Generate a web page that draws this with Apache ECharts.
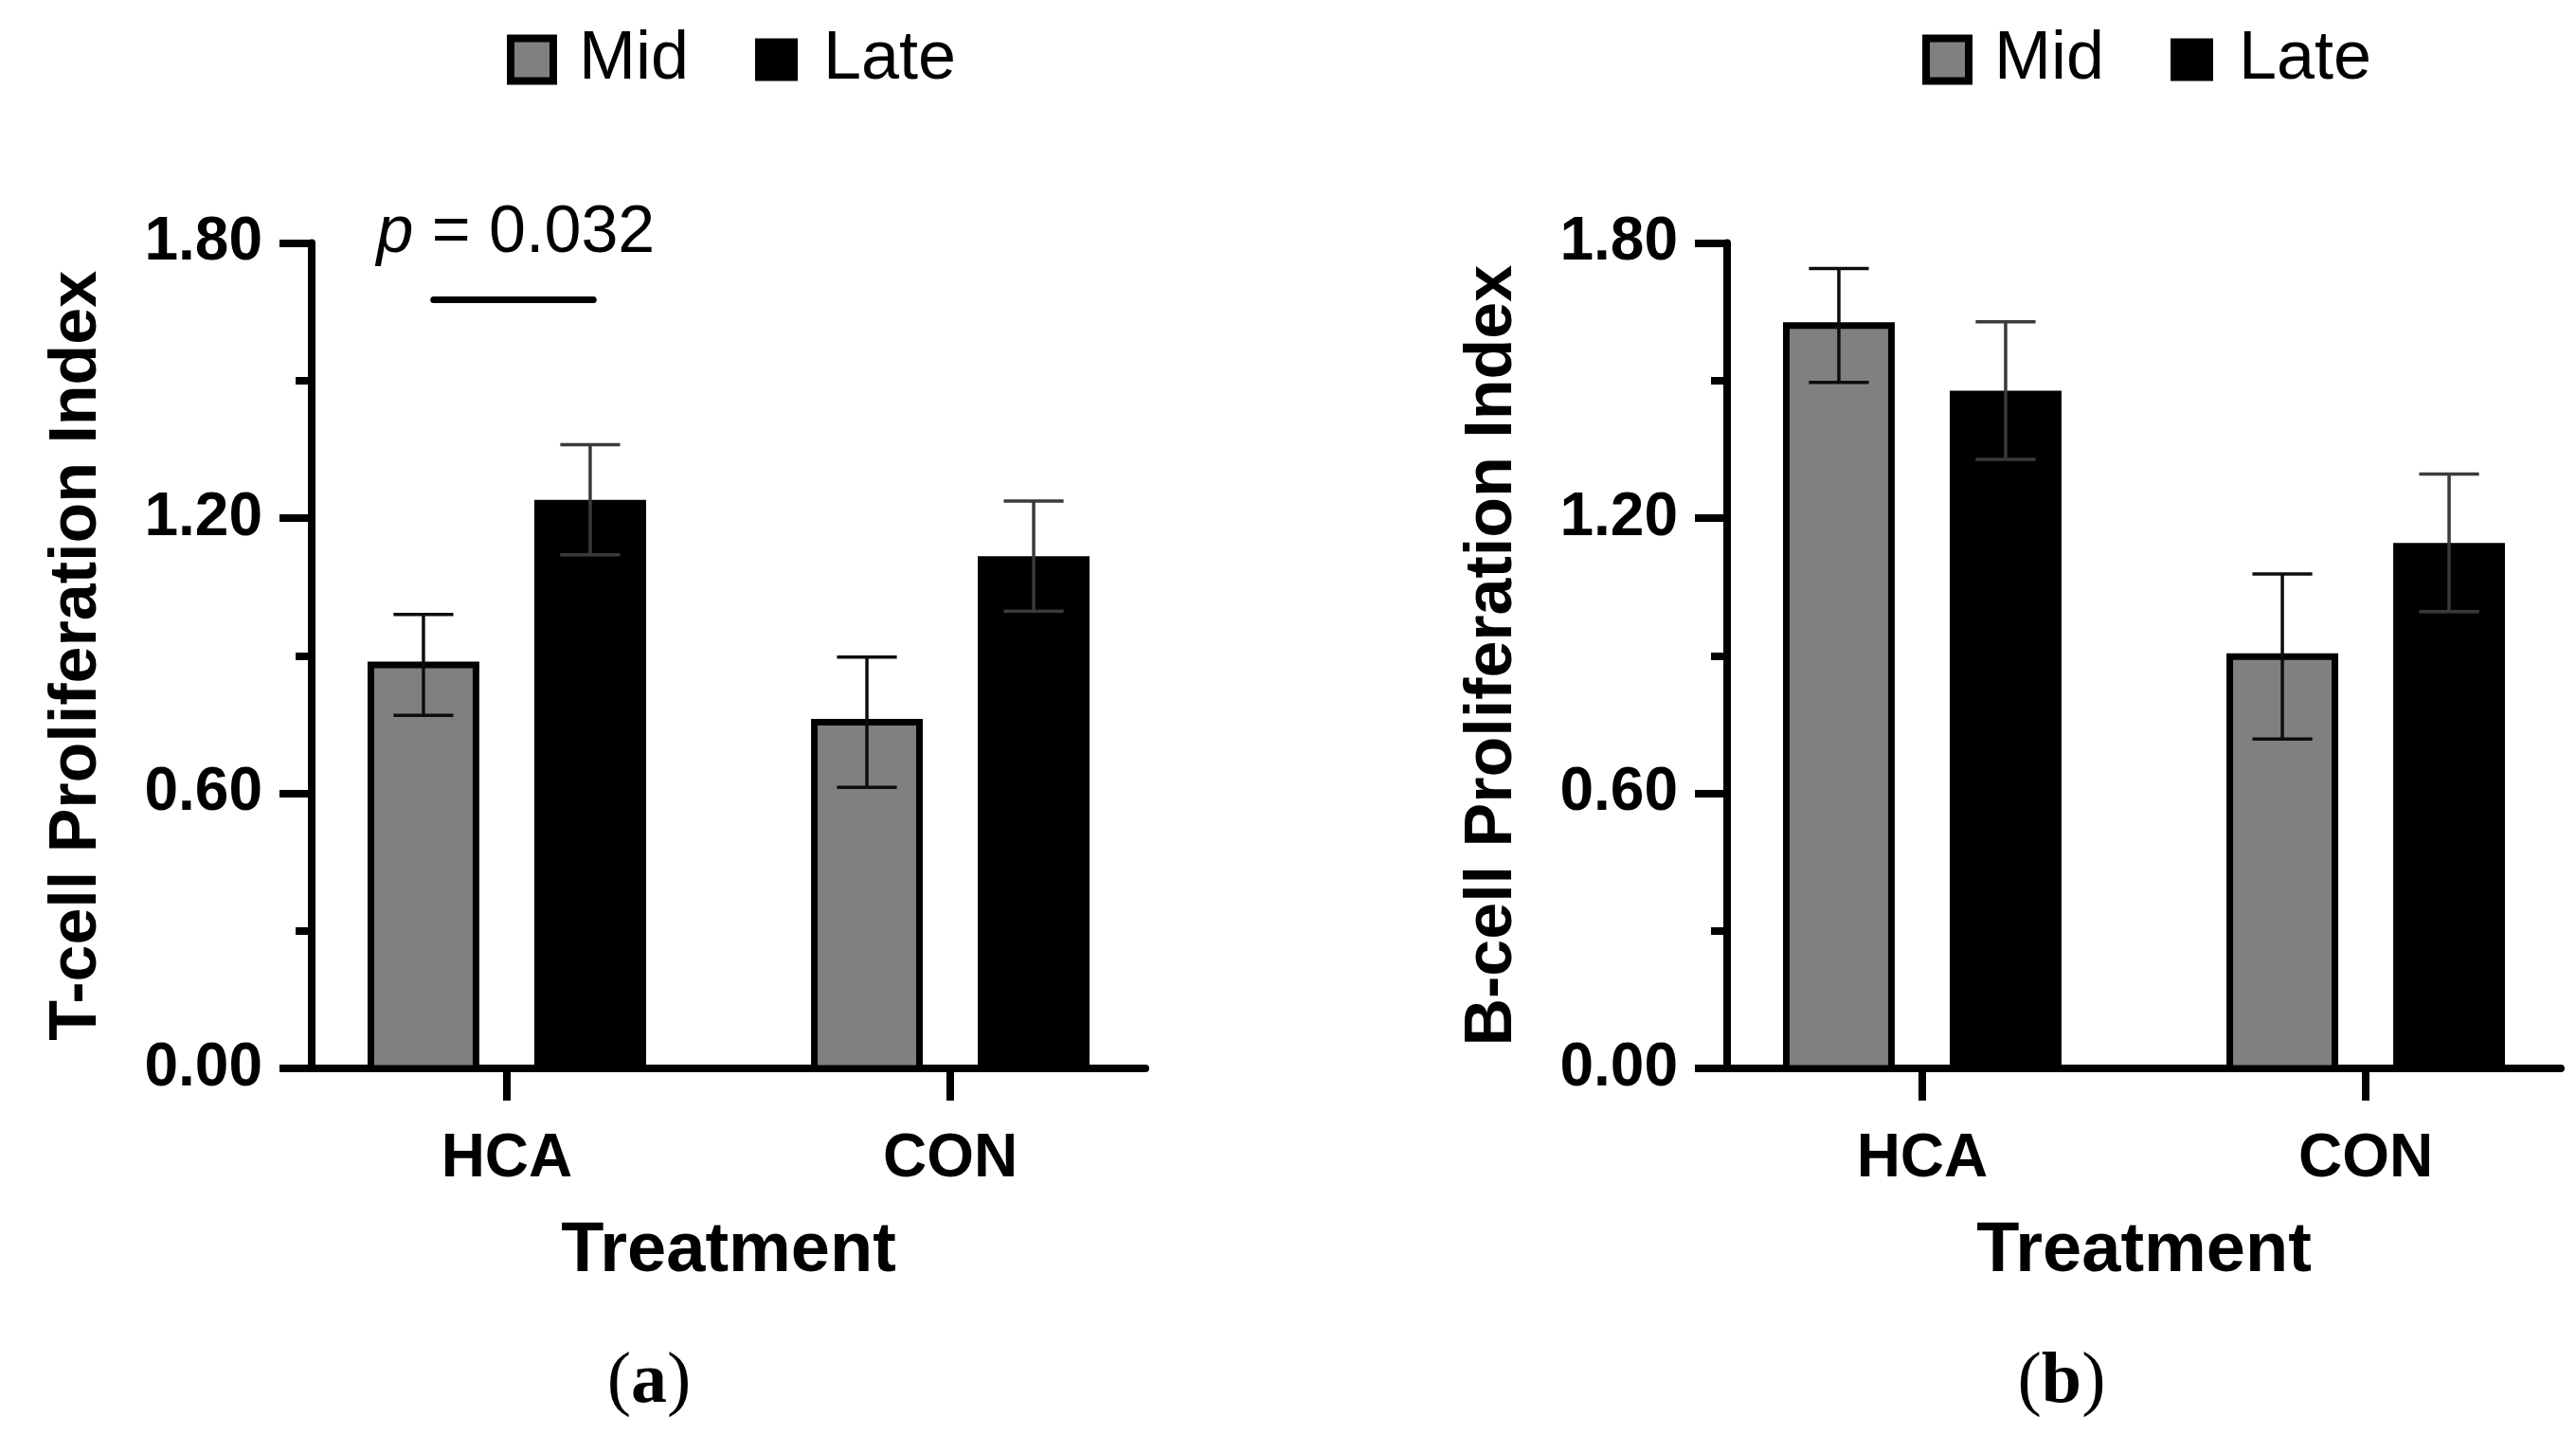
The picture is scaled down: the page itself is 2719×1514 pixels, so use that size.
<!DOCTYPE html>
<html>
<head>
<meta charset="utf-8">
<title>T-cell and B-cell proliferation index</title>
<script src="https://cdn.jsdelivr.net/npm/echarts@6/dist/echarts.min.js"></script>
<style>
  html, body { margin: 0; padding: 0; background: #ffffff; }
  #chart { width: 2719px; height: 1514px; }
</style>
</head>
<body>
<div id="chart"></div>
<script>
// values (mean and error half-width, per treatment)
var categories = ['HCA', 'CON'];
var seriesNames = ['Mid', 'Late'];

var tCellMid = [0.88, 0.755];
var tCellMidErr = [0.11, 0.142];
var tCellLate = [1.24, 1.117];
var tCellLateErr = [0.12, 0.12];

var bCellMid = [1.62, 0.898];
var bCellMidErr = [0.124, 0.18];
var bCellLate = [1.478, 1.146];
var bCellLateErr = [0.15, 0.15];

var yMin = 0;
var yMax = 1.8;
var yInterval = 0.6;

// significance bracket on panel (a): category index, line level, label level
var sigCategory = [1];
var sigLineY = [1.676];
var sigLabelY = [1.82];
var sigValue = '0.032';

(function () {
  'use strict';

  var SANS = '"Liberation Sans", Arial, Helvetica, sans-serif';
  var SERIF = '"Liberation Serif", "Times New Roman", serif';

  var BAR_W = 0.252;
  var BAR_OFFSET = 0.188;
  var CAP_W = 0.135;
  var MID_BORDER = 7;
  var GRID_TOP = 256.5;
  var GRID_H = 871.5;
  var GRID_W = 880;
  var X_MIN = 0.56;
  var X_MAX = 2.44;

  var styles = {
    Mid: { fill: '#808080', border: MID_BORDER, err: '#0d0d0d', offset: -BAR_OFFSET },
    Late: { fill: '#000000', border: 0, err: '#3a3a3a', offset: BAR_OFFSET }
  };

  function buildData(means, errs) {
    var out = [];
    for (var i = 0; i < categories.length; i += 1) {
      out.push([i + 1, means[i], errs[i]]);
    }
    return out;
  }

  function barRenderer(name) {
    var s = styles[name];
    return function (params, api) {
      var x = api.value(0) + s.offset;
      var mean = api.value(1);
      var err = api.value(2);
      var top = api.coord([x, mean]);
      var base = api.coord([x, 0]);
      var hi = api.coord([x, mean + err]);
      var lo = api.coord([x, mean - err]);
      var w = api.size([BAR_W, 0])[0];
      var half = api.size([CAP_W, 0])[0] / 2;
      var inset = s.border;
      var errStyle = { stroke: s.err, lineWidth: 3.5 };

      return {
        type: 'group',
        children: [
          {
            type: 'rect',
            shape: { x: top[0] - w / 2 + inset / 2, y: top[1], width: w - inset, height: base[1] - top[1] },
            style: { fill: s.fill, stroke: s.border ? '#000000' : null, lineWidth: s.border }
          },
          { type: 'line', shape: { x1: hi[0], y1: hi[1], x2: lo[0], y2: lo[1] }, style: errStyle },
          { type: 'line', shape: { x1: hi[0] - half, y1: hi[1], x2: hi[0] + half, y2: hi[1] }, style: errStyle },
          { type: 'line', shape: { x1: lo[0] - half, y1: lo[1], x2: lo[0] + half, y2: lo[1] }, style: errStyle }
        ]
      };
    };
  }

  function renderSig(params, api) {
    var c = api.value(0);
    var y = api.value(1);
    var a = api.coord([c - 0.165, y]);
    var b = api.coord([c + 0.195, y]);
    var t = api.coord([c + 0.02, api.value(2)]);
    return {
      type: 'group',
      children: [
        {
          type: 'line',
          shape: { x1: a[0], y1: a[1], x2: b[0], y2: b[1] },
          style: { stroke: '#000000', lineWidth: 7, lineCap: 'round' }
        },
        {
          type: 'text',
          x: t[0],
          y: t[1],
          style: {
            text: '{i|p} = ' + sigValue,
            rich: { i: { fontStyle: 'italic', fontSize: 70, fontFamily: SANS, fill: '#000000' } },
            fontSize: 70,
            fontFamily: SANS,
            fill: '#000000',
            align: 'center',
            verticalAlign: 'middle'
          }
        }
      ]
    };
  }

  var grids = [];
  var xAxes = [];
  var yAxes = [];
  var legends = [];
  var series = [];

  function addPanel(idx, left, yName, midMeans, midErrs, lateMeans, lateErrs) {
    grids.push({ left: left, top: GRID_TOP, width: GRID_W, height: GRID_H, containLabel: false });

    xAxes.push({
      gridIndex: idx,
      type: 'value',
      min: X_MIN,
      max: X_MAX,
      name: 'Treatment',
      nameLocation: 'middle',
      nameGap: 157,
      nameTextStyle: { fontFamily: SANS, fontWeight: 'bold', fontSize: 74, color: '#000000' },
      splitLine: { show: false },
      axisLine: { show: true, lineStyle: { color: '#000000', width: 8 } },
      axisTick: { show: true, length: 34, lineStyle: { color: '#000000', width: 8 }, customValues: [1, 2] },
      axisLabel: {
        customValues: [1, 2],
        margin: 64,
        fontFamily: SANS,
        fontWeight: 'bold',
        fontSize: 64,
        color: '#000000',
        formatter: function (v) { return categories[Math.round(v) - 1] || ''; }
      }
    });

    yAxes.push({
      gridIndex: idx,
      type: 'value',
      min: yMin,
      max: yMax,
      interval: yInterval,
      name: yName,
      nameLocation: 'middle',
      nameGap: 212,
      nameTextStyle: { fontFamily: SANS, fontWeight: 'bold', fontSize: 70, color: '#000000' },
      splitLine: { show: false },
      axisLine: { show: true, lineStyle: { color: '#000000', width: 8 } },
      axisTick: { show: true, length: 34, lineStyle: { color: '#000000', width: 8 } },
      minorTick: { show: true, splitNumber: 2, length: 17, lineStyle: { color: '#000000', width: 8 } },
      axisLabel: {
        margin: 52,
        fontFamily: SANS,
        fontWeight: 'bold',
        fontSize: 64,
        color: '#000000',
        formatter: function (v) { return v.toFixed(2); }
      }
    });

    legends.push({
      left: left + 201,
      top: 22,
      orient: 'horizontal',
      icon: 'rect',
      itemWidth: 45,
      itemHeight: 45,
      itemGap: 70,
      selectedMode: false,
      textStyle: { fontFamily: SANS, fontSize: 72, color: '#000000', padding: [0, 0, 0, 22] },
      data: [
        { name: 'Mid', itemStyle: { color: '#808080', borderColor: '#000000', borderWidth: 8 } },
        { name: 'Late', itemStyle: { color: '#000000', borderWidth: 0 } }
      ]
    });

    series.push({
      type: 'custom',
      name: seriesNames[0],
      xAxisIndex: idx,
      yAxisIndex: idx,
      clip: false,
      itemStyle: { color: styles.Mid.fill },
      renderItem: barRenderer('Mid'),
      data: buildData(midMeans, midErrs)
    });
    series.push({
      type: 'custom',
      name: seriesNames[1],
      xAxisIndex: idx,
      yAxisIndex: idx,
      clip: false,
      itemStyle: { color: styles.Late.fill },
      renderItem: barRenderer('Late'),
      data: buildData(lateMeans, lateErrs)
    });
  }

  addPanel(0, 329, 'T-cell Proliferation Index', tCellMid, tCellMidErr, tCellLate, tCellLateErr);
  addPanel(1, 1823, 'B-cell Proliferation Index', bCellMid, bCellMidErr, bCellLate, bCellLateErr);

  var sigData = [];
  for (var i = 0; i < sigCategory.length; i += 1) {
    sigData.push([sigCategory[i], sigLineY[i], sigLabelY[i]]);
  }
  series.push({
    type: 'custom',
    name: 'significance',
    xAxisIndex: 0,
    yAxisIndex: 0,
    clip: false,
    z: 5,
    renderItem: renderSig,
    data: sigData
  });

  function panelLabel(letter, x) {
    return {
      type: 'text',
      x: x,
      y: 1460,
      style: {
        text: '({b|' + letter + '})',
        rich: { b: { fontWeight: 'bold', fontSize: 76, fontFamily: SERIF, fill: '#000000' } },
        fontFamily: SERIF,
        fontSize: 76,
        fill: '#000000',
        align: 'center',
        verticalAlign: 'middle'
      }
    };
  }

  var chart = echarts.init(document.getElementById('chart'), null, { renderer: 'canvas' });
  chart.setOption({
    backgroundColor: '#ffffff',
    animation: false,
    grid: grids,
    xAxis: xAxes,
    yAxis: yAxes,
    legend: legends,
    series: series,
    graphic: [panelLabel('a', 685), panelLabel('b', 2176)]
  });
})();
</script>
</body>
</html>
